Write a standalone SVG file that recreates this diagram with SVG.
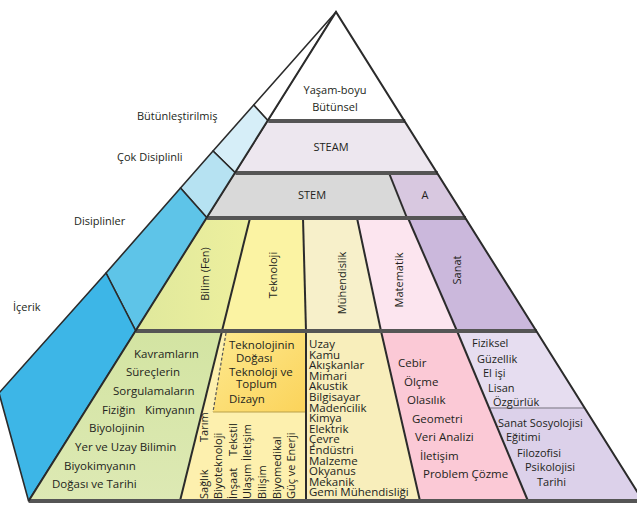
<svg xmlns="http://www.w3.org/2000/svg" width="637" height="507" viewBox="0 0 637 507">
<style>
text{font-family:"Open Sans","Liberation Sans",sans-serif;font-size:11px;fill:#231f20}
.big{font-size:11.5px}
.eng{font-size:11.5px}
.ol{stroke:#2b2b2b;stroke-width:1.6;stroke-linejoin:round}
.thick{stroke:#555;stroke-width:4;fill:none}
.sep{stroke:#2b2b2b;stroke-width:2;fill:none}
</style>
<defs>
<linearGradient id="gBilim" x1="0" y1="0" x2="1" y2="0"><stop offset="0" stop-color="#dfe89c"/><stop offset="1" stop-color="#eef09e"/></linearGradient>
<linearGradient id="gBox" x1="0" y1="0" x2="1" y2="1"><stop offset="0" stop-color="#fde98f"/><stop offset="1" stop-color="#fbd35a"/></linearGradient>
<linearGradient id="gGreen" x1="0" y1="0" x2="0" y2="1"><stop offset="0" stop-color="#d3e4a2"/><stop offset="1" stop-color="#dde9b4"/></linearGradient>
</defs>
<rect width="637" height="507" fill="#ffffff"/>

<g id="strip">
<polygon class="ol" points="336,12 253.7,105 268.3,121" fill="#ffffff"/>
<polygon class="ol" points="253.7,105 268.3,121 235.5,173 213,151" fill="#d6eef8"/>
<polygon class="ol" points="213,151 235.5,173 207.1,218 180.5,188" fill="#b6e2f2"/>
<polygon class="ol" points="180.5,188 207.1,218 135.8,331 106,273" fill="#5ec4e8"/>
<polygon class="ol" points="106,273 135.8,331 28.6,501 -1,393" fill="#3db6e7"/>
</g>

<g id="top">
<polygon points="336,12 268.3,121 405.2,121" fill="#ffffff"/>
<text x="335" y="94" text-anchor="middle">Yaşam-boyu</text>
<text x="335" y="111" text-anchor="middle">Bütünsel</text>
</g>
<g id="steam">
<polygon points="268.3,121 405.2,121 437.8,173 235.5,173" fill="#ede7ef"/>
<text x="331" y="151" text-anchor="middle">STEAM</text>
</g>
<g id="stem">
<polygon points="235.5,173 389,173 407,218 207.1,218" fill="#d9d9d9"/>
<text x="312" y="199" text-anchor="middle">STEM</text>
</g>
<g id="a">
<polygon points="389,173 437.8,173 466,218 407,218" fill="#d8c8e0"/>
<text x="425" y="199" text-anchor="middle">A</text>
</g>

<g id="bilim">
<polygon points="207.1,218 250,218 222,331 135.8,331" fill="url(#gBilim)"/>
<text transform="translate(209,274) rotate(-90)" text-anchor="middle">Bilim (Fen)</text>
</g>
<g id="teknoloji">
<polygon points="250,218 303,218 306,331 222,331" fill="#fbf3a3"/>
<text transform="translate(277,275) rotate(-90)" text-anchor="middle">Teknoloji</text>
</g>
<g id="muhendislik">
<polygon points="303,218 357,218 381,331 306,331" fill="#f7f0ca"/>
<text transform="translate(346,283) rotate(-90)" text-anchor="middle">Mühendislik</text>
</g>
<g id="matematik">
<polygon points="357,218 408,218 457,331 381,331" fill="#fce5ef"/>
<text transform="translate(403,280) rotate(-90)" text-anchor="middle">Matematik</text>
</g>
<g id="sanat">
<polygon points="408,218 466,218 536.7,331 457,331" fill="#cbb8dc"/>
<text transform="translate(461,270) rotate(-90)" text-anchor="middle">Sanat</text>
</g>

<g id="bilim-icerik">
<polygon points="135.8,331 222,331 180,501 28.6,501" fill="url(#gGreen)"/>
<text class="big" x="134" y="358">Kavramların</text>
<text class="big" x="126" y="376">Süreçlerin</text>
<text class="big" x="113" y="395">Sorgulamaların</text>
<text class="big" x="102" y="414">Fiziğin</text>
<text class="big" x="145" y="414">Kimyanın</text>
<text class="big" x="89" y="432">Biyolojinin</text>
<text class="big" x="75" y="451">Yer ve Uzay Bilimin</text>
<text class="big" x="64" y="470">Biyokimyanın</text>
<text class="big" x="52" y="488">Doğası ve Tarihi</text>
</g>

<g id="teknoloji-icerik">
<polygon points="222,331 306,331 306,501 180,501" fill="#fdf0ae"/>
<polygon points="226,333 306,333 306,412 213,412" fill="url(#gBox)"/>
<line x1="226" y1="333" x2="213" y2="412" stroke="#555" stroke-width="1.2" stroke-dasharray="3,2"/>
<line x1="213" y1="412" x2="306" y2="412" stroke="#b9a04a" stroke-width="1"/>
<text class="big" x="229" y="349">Teknolojinin</text>
<text class="big" x="236" y="362">Doğası</text>
<text class="big" x="229" y="376">Teknoloji ve</text>
<text class="big" x="236" y="388">Toplum</text>
<text class="big" x="229" y="403">Dizayn</text>
<text transform="translate(208,499) rotate(-90)">Sağlık</text>
<text transform="translate(208,442) rotate(-90)">Tarım</text>
<text transform="translate(222,499) rotate(-90)">Biyoteknoloji</text>
<text transform="translate(237,499) rotate(-90)">İnşaat</text>
<text transform="translate(237,456) rotate(-90)">Tekstil</text>
<text transform="translate(251,499) rotate(-90)">Ulaşım</text>
<text transform="translate(251,461) rotate(-90)">İletişim</text>
<text transform="translate(266,499) rotate(-90)">Bilişim</text>
<text transform="translate(281,499) rotate(-90)">Biyomedikal</text>
<text transform="translate(295,499) rotate(-90)">Güç ve Enerji</text>
</g>

<g id="muhendislik-icerik">
<polygon points="306,331 381,331 420,501 306,501" fill="#f8eebb"/>
<text class="eng" x="309" y="348">Uzay</text>
<text class="eng" x="309" y="358.6">Kamu</text>
<text class="eng" x="309" y="369.2">Akışkanlar</text>
<text class="eng" x="309" y="379.8">Mimari</text>
<text class="eng" x="309" y="390.4">Akustik</text>
<text class="eng" x="309" y="401">Bilgisayar</text>
<text class="eng" x="309" y="411.6">Madencilik</text>
<text class="eng" x="309" y="422.2">Kimya</text>
<text class="eng" x="309" y="432.8">Elektrik</text>
<text class="eng" x="309" y="443.4">Çevre</text>
<text class="eng" x="309" y="454">Endüstri</text>
<text class="eng" x="309" y="464.6">Malzeme</text>
<text class="eng" x="309" y="475.2">Okyanus</text>
<text class="eng" x="309" y="485.8">Mekanik</text>
<text class="eng" x="309" y="496.4">Gemi Mühendisliği</text>
</g>

<g id="matematik-icerik">
<polygon points="381,331 457,331 528,501 420,501" fill="#fbc9d6"/>
<text class="big" x="398" y="367">Cebir</text>
<text class="big" x="404" y="386">Ölçme</text>
<text class="big" x="407" y="404">Olasılık</text>
<text class="big" x="412" y="423">Geometri</text>
<text class="big" x="415" y="441">Veri Analizi</text>
<text class="big" x="420" y="460">İletişim</text>
<text class="big" x="423" y="478">Problem Çözme</text>
</g>

<g id="sanat-icerik">
<polygon points="457,331 536.7,331 584.9,408 489,408" fill="#e6ddf0"/>
<polygon points="489,408 584.9,408 643,501 528,501" fill="#dcd1ea"/>
<line x1="489" y1="408" x2="584.9" y2="408" stroke="#9a93a3" stroke-width="1.5"/>
<text x="472" y="347">Fiziksel</text>
<text x="477" y="363">Güzellik</text>
<text x="483" y="377">El işi</text>
<text x="488" y="392">Lisan</text>
<text x="493" y="406">Özgürlük</text>
<text x="498" y="427">Sanat Sosyolojisi</text>
<text x="506" y="441">Eğitimi</text>
<text x="517" y="457">Filozofisi</text>
<text x="525" y="471">Psikolojisi</text>
<text x="537" y="486">Tarihi</text>
</g>

<g id="labels">
<text x="137" y="120">Bütünleştirilmiş</text>
<text x="117" y="161">Çok Disiplinli</text>
<text x="74" y="225">Disiplinler</text>
<text x="13" y="311">İçerik</text>
</g>

<g id="lines">
<line class="sep" x1="389" y1="173" x2="407" y2="218"/>
<line class="sep" x1="250" y1="218" x2="222" y2="331"/>
<line class="sep" x1="303" y1="218" x2="306" y2="331"/>
<line class="sep" x1="357" y1="218" x2="381" y2="331"/>
<line class="sep" x1="408" y1="218" x2="457" y2="331"/>
<line class="sep" x1="222" y1="331" x2="180" y2="501"/>
<line class="sep" x1="306" y1="331" x2="306" y2="501"/>
<line class="sep" x1="381" y1="331" x2="420" y2="501"/>
<line class="sep" x1="457" y1="331" x2="528" y2="501"/>
<line class="thick" x1="268.3" y1="121" x2="405.2" y2="121"/>
<line class="thick" x1="235.5" y1="173" x2="437.8" y2="173"/>
<line class="thick" x1="207.1" y1="218" x2="466" y2="218"/>
<line class="thick" x1="135.8" y1="331" x2="536.7" y2="331"/>
<line class="thick" x1="28.6" y1="501" x2="643" y2="501"/>
<polyline class="sep" points="28.6,501 336,12 643,501"/>
</g>
</svg>
